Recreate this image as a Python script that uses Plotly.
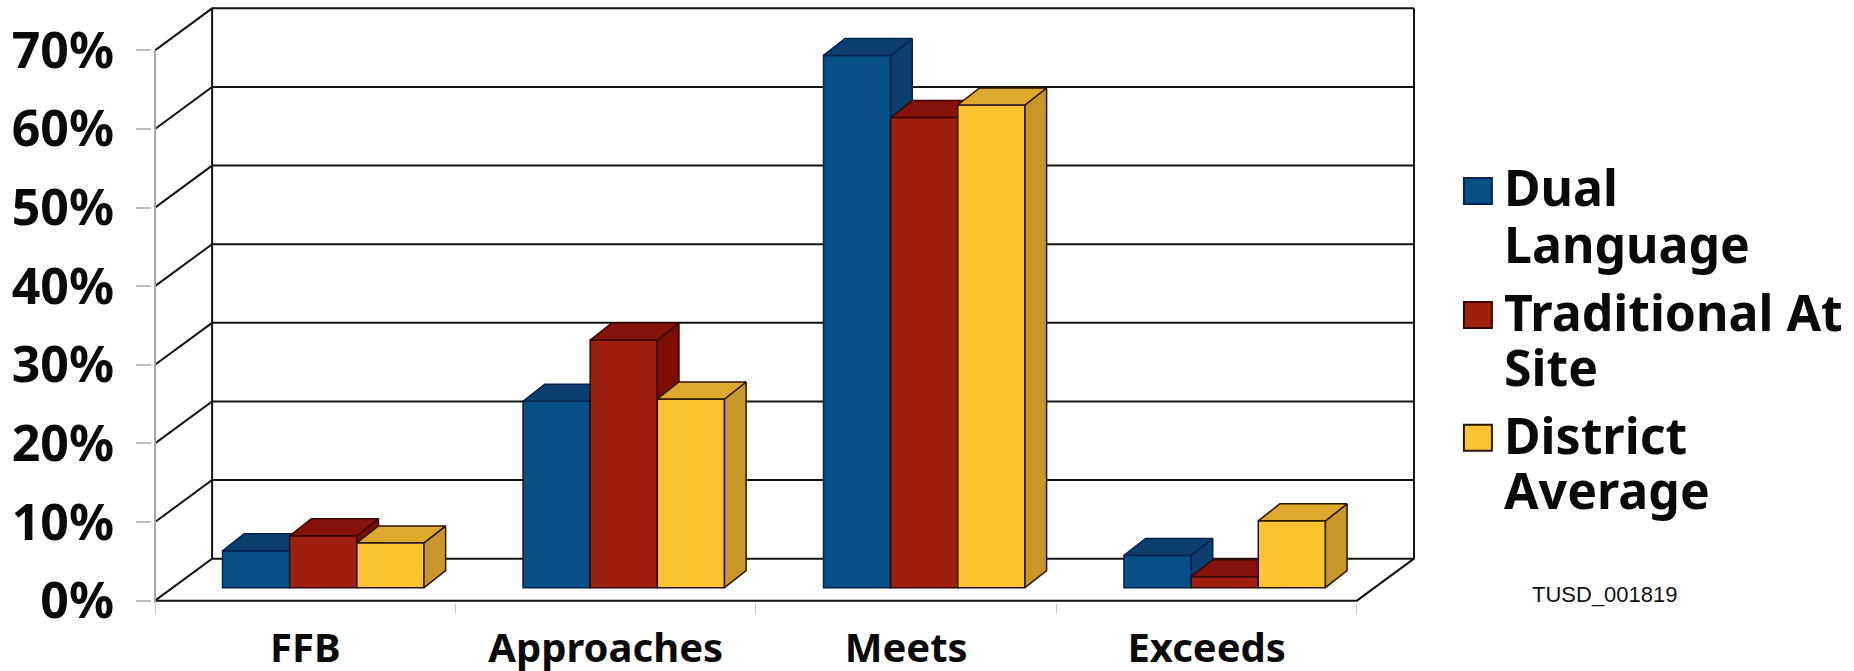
import plotly.graph_objects as go

# Chart values
CATEGORIES = ["FFB", "Approaches", "Meets", "Exceeds"]
DUAL_LANGUAGE = [4.7, 23.7, 67.7, 4.1]
TRADITIONAL_AT_SITE = [6.6, 31.5, 59.8, 1.4]
DISTRICT_AVERAGE = [5.7, 24.0, 61.4, 8.5]
Y_TICKS = [0, 10, 20, 30, 40, 50, 60, 70]
Y_LABELS = ["0%", "10%", "20%", "30%", "40%", "50%", "60%", "70%"]
LEGEND_LINES = [["Dual", "Language"], ["Traditional At", "Site"], ["District", "Average"]]
FOOTER = "TUSD_001819"

# Colours per series: front face, top face, side face, outline
BLUE = ("#064f87", "#0d3f6e", "#0a3f6e", "#06224f")
RED = ("#9e1f0e", "#85130a", "#7c0f05", "#3a0705")
YELLOW = ("#fcc52f", "#dfa92c", "#c8962a", "#2a1503")

# Oblique projection, in axis units (x: categories, y: percent)
WALL_DX, WALL_DY = 0.19, 5.34
BAR_DX, BAR_DY = 0.072, 2.16
FLOOR_DX, FLOOR_DY = 0.06, 1.65
BAR_WIDTH = 0.2235
X_MIN, X_MAX = -0.5, 3.5
Y_MIN, Y_MAX = 0, 70

# The axis ranges also take in the receding walls, with a little padding for line widths
PAD_X, PAD_Y = 0.01, 0.3
X_RANGE = [X_MIN - PAD_X, X_MAX + WALL_DX + PAD_X]
Y_RANGE = [Y_MIN - PAD_Y, Y_MAX + WALL_DY + PAD_Y]

# Pixel size of one axis unit and of the plot area
W, H = 1854, 671
X_UNIT, Y_UNIT = 300.5, 7.87
LEFT = 155 - PAD_X * X_UNIT
RIGHT = LEFT + (X_RANGE[1] - X_RANGE[0]) * X_UNIT
BOTTOM = 601 + PAD_Y * Y_UNIT
TOP = BOTTOM - (Y_RANGE[1] - Y_RANGE[0]) * Y_UNIT


def paper_x(px):
    return (px - LEFT) / (RIGHT - LEFT)


def paper_y(py):
    return (BOTTOM - py) / (BOTTOM - TOP)


fig = go.Figure()

# Back wall, left wall and floor of the box
wall_x, wall_y = [], []
for v in Y_TICKS:
    wall_x += [X_MIN, X_MIN + WALL_DX, X_MAX + WALL_DX, None]
    wall_y += [v, v + WALL_DY, v + WALL_DY, None]
wall_x += [X_MIN + WALL_DX, X_MIN + WALL_DX, None, X_MAX + WALL_DX, X_MAX + WALL_DX, X_MAX, X_MIN]
wall_y += [Y_MIN + WALL_DY, Y_MAX + WALL_DY, None, Y_MAX + WALL_DY, Y_MIN + WALL_DY, Y_MIN, Y_MIN]
fig.add_trace(go.Scatter(x=wall_x, y=wall_y, mode="lines", showlegend=False, hoverinfo="skip",
                         line=dict(color="#141414", width=2)))

# Grey value axis along the front edge
fig.add_trace(go.Scatter(x=[X_MIN, X_MIN], y=[Y_MIN - PAD_Y, Y_MAX], mode="lines", showlegend=False,
                         hoverinfo="skip", line=dict(color="#a8a8a8", width=2)))

SERIES = [
    ("Dual Language", DUAL_LANGUAGE, BLUE, -1),
    ("Traditional At Site", TRADITIONAL_AT_SITE, RED, 0),
    ("District Average", DISTRICT_AVERAGE, YELLOW, 1),
]

# Each series sits on its own overlaid axes so later series cover earlier ones
for layer, (name, values, colours, slot) in enumerate(SERIES, start=2):
    front, top, side, edge = colours
    xref, yref = f"x{layer}", f"y{layer}"
    left_edges = [i + FLOOR_DX + (slot - 0.5) * BAR_WIDTH for i in range(len(values))]

    fig.add_trace(go.Bar(
        x=[i + FLOOR_DX + slot * BAR_WIDTH for i in range(len(values))], y=values,
        base=[FLOOR_DY] * len(values), width=BAR_WIDTH, name=name, showlegend=False,
        marker=dict(color=front, line=dict(color=edge, width=1.5)), xaxis=xref, yaxis=yref,
    ))

    side_x, side_y, top_x, top_y = [], [], [], []
    for x0, v in zip(left_edges, values):
        x1 = x0 + BAR_WIDTH
        y0, y1 = FLOOR_DY, FLOOR_DY + v
        side_x += [x1, x1 + BAR_DX, x1 + BAR_DX, x1, x1, None]
        side_y += [y0, y0 + BAR_DY, y1 + BAR_DY, y1, y0, None]
        top_x += [x0, x0 + BAR_DX, x1 + BAR_DX, x1, x0, None]
        top_y += [y1, y1 + BAR_DY, y1 + BAR_DY, y1, y1, None]
    for xs, ys, fill in ((side_x, side_y, side), (top_x, top_y, top)):
        fig.add_trace(go.Scatter(
            x=xs, y=ys, mode="lines", fill="toself", fillcolor=fill, showlegend=False,
            hoverinfo="skip", line=dict(color=edge, width=1.5), xaxis=xref, yaxis=yref,
        ))

    fig.update_layout({
        f"xaxis{layer}": dict(overlaying="x", range=X_RANGE, visible=False, fixedrange=True),
        f"yaxis{layer}": dict(overlaying="y", range=Y_RANGE, visible=False, fixedrange=True),
    })

# Key: swatches and wrapped labels to the right of the box
KEY_ROWS = [(191, [187, 244]), (315, [312, 367]), (438, [435, 490])]
shapes, annotations = [], []
for (mid, line_ys), lines, (_, _, colours, _) in zip(KEY_ROWS, LEGEND_LINES, SERIES):
    shapes.append(dict(type="rect", xref="paper", yref="paper",
                       x0=paper_x(1464), x1=paper_x(1492), y0=paper_y(mid - 13), y1=paper_y(mid + 13),
                       fillcolor=colours[0], line=dict(color=colours[3], width=2)))
    for text, py in zip(lines, line_ys):
        annotations.append(dict(text=text, xref="paper", yref="paper", x=paper_x(1502), y=paper_y(py),
                                xanchor="left", yanchor="middle", showarrow=False,
                                font=dict(family="Noto Sans", size=50, color="#0a0a0a", weight="bold")))
annotations.append(dict(text=FOOTER, xref="paper", yref="paper", x=paper_x(1605), y=paper_y(595),
                        xanchor="center", yanchor="middle", showarrow=False,
                        font=dict(family="Liberation Sans", size=22, color="#111111")))

fig.update_layout(
    width=W, height=H, autosize=False, template="none",
    margin=dict(l=LEFT, r=W - RIGHT, t=TOP, b=H - BOTTOM, pad=0),
    paper_bgcolor="white", plot_bgcolor="white", showlegend=False,
    shapes=shapes, annotations=annotations,
    xaxis=dict(range=X_RANGE, tickmode="array", tickvals=list(range(len(CATEGORIES))),
               ticktext=CATEGORIES, ticks="", showgrid=False, zeroline=False, fixedrange=True,
               automargin=False, showline=False, ticklabelstandoff=18,
               tickfont=dict(family="Noto Sans", size=40, color="#0a0a0a", weight="bold"),
               minor=dict(tickmode="array", tickvals=[-0.5, 0.5, 1.5, 2.5, 3.5], ticks="outside",
                          ticklen=10, tickcolor="#c4c4c4", tickwidth=1, showgrid=False)),
    yaxis=dict(range=Y_RANGE, tickmode="array", tickvals=Y_TICKS, ticktext=Y_LABELS,
               ticks="outside", ticklen=15, tickcolor="#bdbdbd", tickwidth=1.5, showgrid=False,
               zeroline=False, fixedrange=True, automargin=False, showline=False,
               ticklabelstandoff=12,
               tickfont=dict(family="Noto Sans", size=50, color="#0a0a0a", weight="bold")),
)

fig.write_html("out.html")
